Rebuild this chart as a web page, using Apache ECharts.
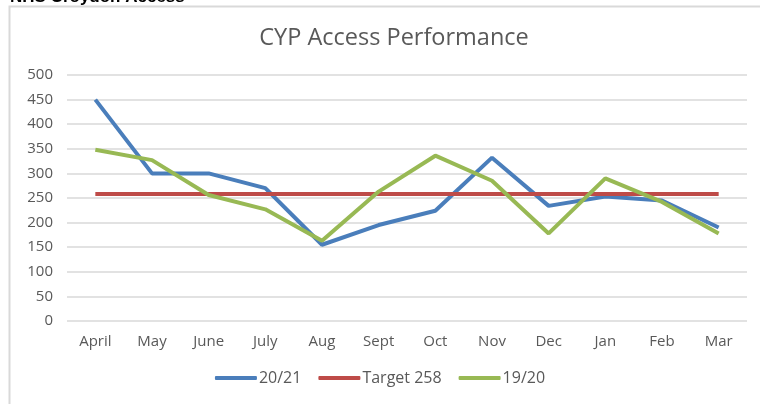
<!DOCTYPE html>
<html>
<head>
    <meta charset="utf-8" />
    <title>CYP Access Performance</title>
    <script type="text/javascript" src="https://cdn.jsdelivr.net/npm/echarts@6/dist/echarts.min.js"></script>
    <style>
        html, body { margin: 0; padding: 0; background: #fff; }
        #con1 { width: 760px; height: 404px; }
    </style>
</head>
<body>
    <div id="con1"></div>
    <script type="text/javascript">
        var months = ['April', 'May', 'June', 'July', 'Aug', 'Sept', 'Oct', 'Nov', 'Dec', 'Jan', 'Feb', 'Mar'];
        var yr2021 = [450, 300, 300, 270, 155, 195, 224, 332, 234, 253, 245, 190];
        var target = [258, 258, 258, 258, 258, 258, 258, 258, 258, 258, 258, 258];
        var yr1920 = [348, 327, 256, 227, 163, 263, 336, 285, 178, 290, 242, 178];
        var yTicks = [0, 50, 100, 150, 200, 250, 300, 350, 400, 450, 500];

        var myChart1 = echarts.init(document.getElementById('con1'));
        var txt = '#595959';
        var option1 = {
            backgroundColor: '#fff',
            animation: false,
            color: ['#4a7ebb', '#be4b48', '#98b954'],
            title: {
                text: 'CYP Access Performance',
                left: 389,
                textAlign: 'center',
                top: 21,
                textStyle: { fontFamily: 'Open Sans', fontSize: 23.5, fontWeight: 'normal', color: txt }
            },
            graphic: [
                {
                    type: 'rect',
                    shape: { x: 9.5, y: 6.5, width: 800, height: 420 },
                    style: { fill: 'none', stroke: '#d9d9d9', lineWidth: 2 },
                    silent: true
                },
                {
                    type: 'text',
                    left: 10,
                    top: -11,
                    style: { text: 'NHS Croydon Access', font: 'bold 17px "Liberation Sans"', fill: '#000' }
                }
            ],
            legend: {
                bottom: 13,
                left: 'center',
                itemWidth: 42,
                itemHeight: 4,
                itemGap: 17,
                icon: 'roundRect',
                textStyle: { fontFamily: 'Open Sans', fontSize: 16, color: txt, padding: [0, 0, 0, -3] },
                data: ['20/21', 'Target 258', '19/20']
            },
            grid: { left: 67, right: 13, top: 75, bottom: 83 },
            xAxis: {
                type: 'category',
                data: months,
                boundaryGap: true,
                axisLine: { show: false },
                axisTick: { show: false },
                axisLabel: { color: txt, fontFamily: 'Open Sans', fontSize: 15, margin: 13 }
            },
            yAxis: {
                type: 'value',
                min: yTicks[0],
                max: yTicks[yTicks.length - 1],
                interval: 50,
                axisLine: { show: false },
                axisTick: { show: false },
                axisLabel: { color: txt, fontFamily: 'Open Sans', fontSize: 15, margin: 14 },
                splitLine: { lineStyle: { color: '#d9d9d9', width: 1.5 } }
            },
            series: [
                { name: '20/21', type: 'line', data: yr2021, symbol: 'none', lineStyle: { width: 4 } },
                { name: 'Target 258', type: 'line', data: target, symbol: 'none', lineStyle: { width: 4 } },
                { name: '19/20', type: 'line', data: yr1920, symbol: 'none', lineStyle: { width: 4 } }
            ]
        };
        option1 && myChart1.setOption(option1);
    </script>
</body>
</html>
